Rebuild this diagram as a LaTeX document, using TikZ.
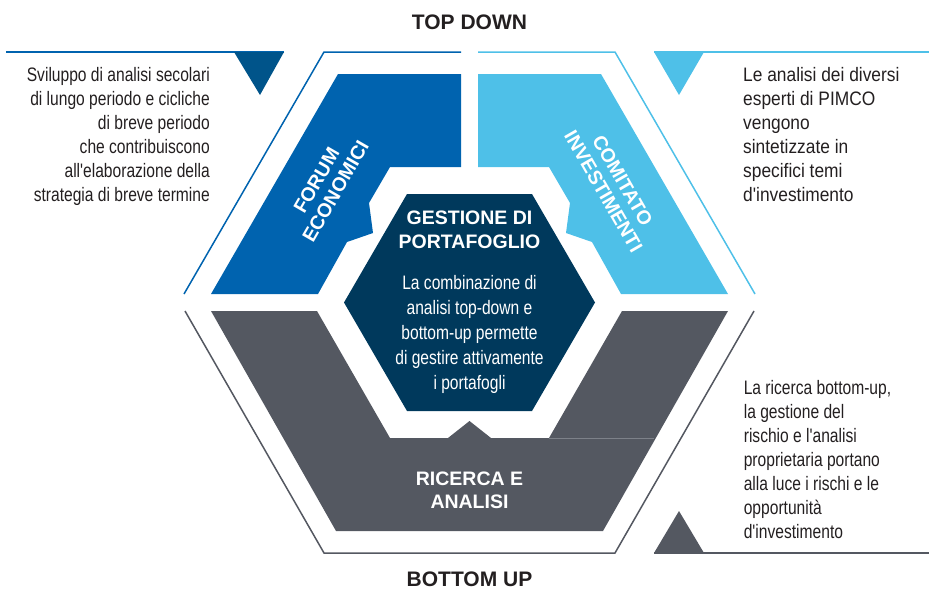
\documentclass[tikz,border=0pt]{standalone}
\usepackage{fontspec}
\setmainfont{Liberation Sans}
\newfontfamily\narrowfont[FakeStretch=0.8]{Liberation Sans}
\newfontfamily\semifont[FakeStretch=0.89]{Liberation Sans}
\usetikzlibrary{positioning}
\definecolor{forum}{RGB}{0,99,175}
\definecolor{forumdark}{RGB}{0,84,138}
\definecolor{comitato}{RGB}{78,192,232}
\definecolor{gestione}{RGB}{0,57,92}
\definecolor{ricerca}{RGB}{84,88,97}
\definecolor{seam}{RGB}{125,129,137}
\definecolor{ink}{RGB}{35,31,32}

\begin{document}
\begin{tikzpicture}[x=1pt,y=-1pt,
	rim/.style={line width=1.5pt},
	head/.style={font=\bfseries\fontsize{21}{25}\selectfont,text=ink},
	boxtitle/.style={font=\bfseries\fontsize{19.5}{24}\selectfont,text=white,align=center,inner sep=0pt},
	boxtext/.style={font=\narrowfont\fontsize{19.5}{25}\selectfont,text=white,align=center,inner sep=0pt},
	note/.style={font=\narrowfont\fontsize{19.5}{24}\selectfont,text=ink,inner sep=0pt}]
	\useasboundingbox (0,0) rectangle (929,589);

	% outer rims and corner marks
	\draw[rim,forum] (6,52) -- (284,52);
	\fill[forumdark] (234,52) -- (284,52) -- (260,95) -- cycle;
	\draw[rim,comitato] (654,52) -- (929,52);
	\fill[comitato] (654,52) -- (704,52) -- (679,95) -- cycle;
	\draw[rim,ricerca] (654,553) -- (929,553);
	\fill[ricerca] (654,553) -- (704,553) -- (679,511) -- cycle;

	\draw[rim,forum] (461,52) -- (324,52) -- (184,294);
	\draw[rim,comitato] (478,52) -- (615,52) -- (755,294);
	\draw[rim,ricerca] (185,311) -- (324,553) -- (615,553) -- (754,311);

	% the four pieces
	\fill[forum] (338,74) -- (461,74) -- (461,167) -- (390,167) -- (369,203)
		-- (373,233) -- (347,242) -- (318,294) -- (211,294) -- cycle;
	\fill[comitato] (601,74) -- (478,74) -- (478,167) -- (549,167) -- (570,203)
		-- (566,233) -- (592,242) -- (621,294) -- (728,294) -- cycle;
	\fill[ricerca] (211,311) -- (317,311) -- (390,438) -- (448,438) -- (469.5,421)
		-- (491,438) -- (549,438) -- (622,311) -- (728,311) -- (603,531)
		-- (336,531) -- cycle;
	\draw[seam,line width=0.8pt] (549,438) -- (654,438);
	\fill[gestione] (407,194) -- (532,194) -- (595,302.5) -- (532,411)
		-- (407,411) -- (344,302.5) -- cycle;

	% texts
	\node[head] (topdown) at (469.5,22.5) {TOP DOWN};
	\node[head] (bottomup) at (469.5,579) {BOTTOM UP};

	\node[boxtitle,rotate=60,font=\bfseries\fontsize{19.5}{22}\selectfont] (forumlab) at (326,186) {FORUM\\ECONOMICI};
	\node[boxtitle,rotate=-60,font=\bfseries\fontsize{19.5}{22}\selectfont] (comitatolab) at (613,186) {COMITATO\\INVESTIMENTI};
	\node[boxtitle,anchor=north] (gestionelab) at (469.5,211) {GESTIONE DI\\PORTAFOGLIO};
	\node[boxtext,anchor=north] (gestionetext) at (469.5,275) {La combinazione di\\analisi top-down e\\bottom-up permette\\di gestire attivamente\\i portafogli};
	\node[boxtitle,anchor=north,font=\bfseries\fontsize{19.5}{23}\selectfont] (ricercalab) at (469.5,472) {RICERCA E\\ANALISI};

	\node[note,align=right,anchor=north east] (sviluppo) at (210,67) {Sviluppo di analisi secolari\\di lungo periodo e cicliche\\di breve periodo\\che contribuiscono\\all'elaborazione della\\strategia di breve termine};
	\node[note,font=\semifont\fontsize{19.5}{24}\selectfont,align=left,anchor=north west] (esperti) at (743,67) {Le analisi dei diversi\\esperti di PIMCO\\vengono\\sintetizzate in\\specifici temi\\d'investimento};
	\node[note,align=left,anchor=north west] (bottomtext) at (743.6,380) {La ricerca bottom-up,\\la gestione del\\rischio e l'analisi\\proprietaria portano\\alla luce i rischi e le\\opportunità\\d'investimento};
\end{tikzpicture}
\end{document}
